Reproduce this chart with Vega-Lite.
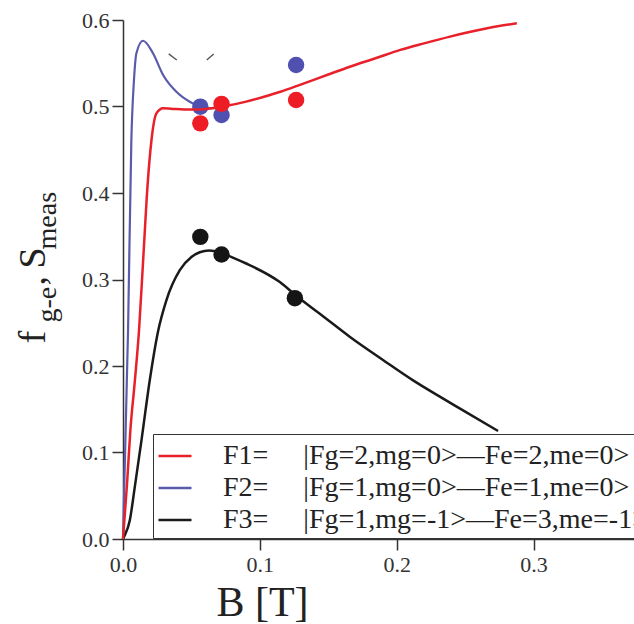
{
  "$schema": "https://vega.github.io/schema/vega-lite/v6.json",
  "width": 520,
  "height": 519,
  "autosize": "none",
  "padding": {"left": 123, "top": 20, "right": 0, "bottom": 85},
  "background": "white",
  "config": {
    "view": {"stroke": null},
    "font": "Liberation Serif",
    "axis": {
      "grid": false,
      "domainColor": "#333",
      "domainWidth": 1.5,
      "tickColor": "#333",
      "tickWidth": 1.5,
      "tickSize": 11,
      "labelColor": "#333",
      "labelFont": "Liberation Serif",
      "labelFontSize": 22,
      "labelFlush": false,
      "titleFont": "Liberation Serif",
      "titleColor": "#222",
      "titleFontWeight": "normal"
    }
  },
  "resolve": {"axis": {"y": "independent"}},
  "datasets": {
    "curves": [
      {"s": "F1", "B": 0.0, "f": 0.0},
      {"s": "F1", "B": 0.003, "f": 0.065},
      {"s": "F1", "B": 0.0054, "f": 0.126},
      {"s": "F1", "B": 0.0085, "f": 0.18},
      {"s": "F1", "B": 0.0117, "f": 0.241},
      {"s": "F1", "B": 0.015, "f": 0.33},
      {"s": "F1", "B": 0.018, "f": 0.41},
      {"s": "F1", "B": 0.0208, "f": 0.461},
      {"s": "F1", "B": 0.0244, "f": 0.492},
      {"s": "F1", "B": 0.0293, "f": 0.498},
      {"s": "F1", "B": 0.035, "f": 0.4975},
      {"s": "F1", "B": 0.045, "f": 0.4965},
      {"s": "F1", "B": 0.055, "f": 0.4965},
      {"s": "F1", "B": 0.065, "f": 0.498},
      {"s": "F1", "B": 0.075, "f": 0.5005},
      {"s": "F1", "B": 0.09, "f": 0.5056},
      {"s": "F1", "B": 0.1024, "f": 0.511},
      {"s": "F1", "B": 0.115, "f": 0.517},
      {"s": "F1", "B": 0.1293, "f": 0.525},
      {"s": "F1", "B": 0.15, "f": 0.537},
      {"s": "F1", "B": 0.1658, "f": 0.546},
      {"s": "F1", "B": 0.185, "f": 0.556},
      {"s": "F1", "B": 0.2026, "f": 0.5654},
      {"s": "F1", "B": 0.22, "f": 0.573},
      {"s": "F1", "B": 0.239, "f": 0.5808},
      {"s": "F1", "B": 0.26, "f": 0.5885},
      {"s": "F1", "B": 0.2878, "f": 0.5963},
      {"s": "F2", "B": 0.0, "f": 0.0},
      {"s": "F2", "B": 0.0037, "f": 0.242},
      {"s": "F2", "B": 0.0061, "f": 0.461},
      {"s": "F2", "B": 0.008, "f": 0.53},
      {"s": "F2", "B": 0.0098, "f": 0.5616},
      {"s": "F2", "B": 0.0146, "f": 0.576},
      {"s": "F2", "B": 0.0219, "f": 0.5616},
      {"s": "F2", "B": 0.0293, "f": 0.5365},
      {"s": "F2", "B": 0.039, "f": 0.5171},
      {"s": "F2", "B": 0.0488, "f": 0.5055},
      {"s": "F2", "B": 0.0561, "f": 0.4998},
      {"s": "F2", "B": 0.065, "f": 0.498},
      {"s": "F2", "B": 0.075, "f": 0.5005},
      {"s": "F3", "B": 0.0, "f": 0.0},
      {"s": "F3", "B": 0.0012, "f": 0.004},
      {"s": "F3", "B": 0.0049, "f": 0.021},
      {"s": "F3", "B": 0.0086, "f": 0.06},
      {"s": "F3", "B": 0.0135, "f": 0.114},
      {"s": "F3", "B": 0.0195, "f": 0.183},
      {"s": "F3", "B": 0.0256, "f": 0.24},
      {"s": "F3", "B": 0.0317, "f": 0.276},
      {"s": "F3", "B": 0.0415, "f": 0.3108},
      {"s": "F3", "B": 0.05, "f": 0.326},
      {"s": "F3", "B": 0.0561, "f": 0.3315},
      {"s": "F3", "B": 0.063, "f": 0.3335},
      {"s": "F3", "B": 0.072, "f": 0.3305},
      {"s": "F3", "B": 0.0815, "f": 0.3245},
      {"s": "F3", "B": 0.09, "f": 0.3185},
      {"s": "F3", "B": 0.1146, "f": 0.297},
      {"s": "F3", "B": 0.1268, "f": 0.281},
      {"s": "F3", "B": 0.145, "f": 0.259},
      {"s": "F3", "B": 0.1659, "f": 0.2336},
      {"s": "F3", "B": 0.19, "f": 0.207},
      {"s": "F3", "B": 0.212, "f": 0.1834},
      {"s": "F3", "B": 0.23, "f": 0.166},
      {"s": "F3", "B": 0.2485, "f": 0.1487},
      {"s": "F3", "B": 0.2741, "f": 0.1248}
    ],
    "measured": [
      {"s": "F2", "B": 0.0565, "S": 0.4998},
      {"s": "F2", "B": 0.072, "S": 0.4902},
      {"s": "F2", "B": 0.1265, "S": 0.548},
      {"s": "F1", "B": 0.0565, "S": 0.4805},
      {"s": "F1", "B": 0.072, "S": 0.503},
      {"s": "F1", "B": 0.1265, "S": 0.5075},
      {"s": "F3", "B": 0.0565, "S": 0.3493},
      {"s": "F3", "B": 0.072, "S": 0.3289},
      {"s": "F3", "B": 0.1256, "S": 0.2784}
    ],
    "dashes": [
      {"d": "a", "B": 0.0334, "v": 0.5608},
      {"d": "a", "B": 0.0393, "v": 0.5538},
      {"d": "b", "B": 0.0612, "v": 0.5538},
      {"d": "b", "B": 0.0663, "v": 0.5608}
    ]
  },
  "encoding": {
    "x": {
      "field": "B",
      "type": "quantitative",
      "scale": {"domain": [0, 0.38], "nice": false},
      "axis": {
        "values": [0, 0.1, 0.2, 0.3],
        "format": ".1f",
        "labelPadding": 4,
        "title": "B [T]",
        "titleFontSize": 42,
        "titleX": 139,
        "titleY": 76,
        "titleAlign": "center",
        "titleBaseline": "alphabetic"
      }
    },
    "y": {
      "field": "f",
      "type": "quantitative",
      "scale": {"domain": [0, 0.6], "nice": false},
      "axis": null
    }
  },
  "layer": [
    {
      "data": {"name": "curves"},
      "transform": [{"filter": "datum.s == 'F2'"}],
      "mark": {"type": "line", "strokeWidth": 2.2, "interpolate": "monotone"},
      "encoding": {
        "y": {
          "field": "f",
          "type": "quantitative",
          "axis": {
            "orient": "left",
            "values": [0, 0.1, 0.2, 0.3, 0.4, 0.5, 0.6],
            "format": ".1f",
            "labelPadding": 3,
            "title": null
          }
        },
        "color": {
          "field": "s",
          "type": "nominal",
          "scale": {"domain": ["F1", "F2", "F3"], "range": ["#e8202a", "#5b5bab", "#1a1a1a"]},
          "legend": {
            "orient": "none",
            "legendX": 30,
            "legendY": 414,
            "title": null,
            "symbolType": "stroke",
            "symbolSize": 1089,
            "symbolStrokeWidth": 2.5,
            "labelFont": "Liberation Serif",
            "labelFontSize": 28,
            "labelColor": "#222",
            "labelLimit": 1000,
            "labelOffset": 30,
            "strokeColor": "#333",
            "padding": 4,
            "rowPadding": 0,
            "labelExpr": "datum.label == 'F1' ? 'F1=\u00a0\u00a0\u00a0\u00a0\u00a0|Fg=2,mg=0>\u2014Fe=2,me=0>' : datum.label == 'F2' ? '\u00a0F2=\u00a0\u00a0\u00a0\u00a0\u00a0|Fg=1,mg=0>\u2014Fe=1,me=0>' : '\u00a0F3=\u00a0\u00a0\u00a0\u00a0\u00a0|Fg=1,mg=-1>\u2014Fe=3,me=-1>'"
          }
        }
      }
    },
    {
      "data": {"name": "curves"},
      "transform": [{"filter": "datum.s == 'F3'"}],
      "mark": {"type": "line", "strokeWidth": 2.5, "interpolate": "monotone"},
      "encoding": {"color": {"field": "s", "type": "nominal"}}
    },
    {
      "data": {"name": "measured"},
      "transform": [{"filter": "datum.s == 'F2'"}],
      "mark": {"type": "circle", "size": 270, "opacity": 1, "color": "#5050b0"},
      "encoding": {"y": {"field": "S", "type": "quantitative", "axis": null}}
    },
    {
      "data": {"name": "curves"},
      "transform": [{"filter": "datum.s == 'F1'"}],
      "mark": {"type": "line", "strokeWidth": 2.5, "interpolate": "monotone"},
      "encoding": {"color": {"field": "s", "type": "nominal"}}
    },
    {
      "data": {"name": "measured"},
      "transform": [{"filter": "datum.s == 'F1'"}],
      "mark": {"type": "circle", "size": 270, "opacity": 1, "color": "#ee1c25"},
      "encoding": {"y": {"field": "S", "type": "quantitative", "axis": null}}
    },
    {
      "data": {"name": "measured"},
      "transform": [{"filter": "datum.s == 'F3'"}],
      "mark": {"type": "circle", "size": 270, "opacity": 1, "color": "#151515"},
      "encoding": {"y": {"field": "S", "type": "quantitative", "axis": null}}
    },
    {
      "data": {"name": "dashes"},
      "mark": {"type": "line", "strokeWidth": 1.4, "color": "#555"},
      "encoding": {"y": {"field": "v", "type": "quantitative", "axis": null}, "detail": {"field": "d"}}
    },
    {
      "data": {"name": "measured"},
      "mark": {"type": "point", "opacity": 0},
      "encoding": {
        "y": {"field": "S", "type": "quantitative", "axis": {"orient": "left", "domain": false, "ticks": false, "labels": false, "title": "f", "titleAngle": 270, "titleAlign": "left", "titleBaseline": "alphabetic", "titleX": -79, "titleY": 323, "titleFontSize": 38}}
      }
    },
    {
      "data": {"name": "measured"},
      "mark": {"type": "point", "opacity": 0},
      "encoding": {
        "y": {"field": "S", "type": "quantitative", "axis": {"orient": "left", "domain": false, "ticks": false, "labels": false, "title": "g-e", "titleAngle": 270, "titleAlign": "left", "titleBaseline": "alphabetic", "titleX": -68, "titleY": 302, "titleFontSize": 28}}
      }
    },
    {
      "data": {"name": "measured"},
      "mark": {"type": "point", "opacity": 0},
      "encoding": {
        "y": {"field": "S", "type": "quantitative", "axis": {"orient": "left", "domain": false, "ticks": false, "labels": false, "title": ",\u2009S", "titleAngle": 270, "titleAlign": "left", "titleBaseline": "alphabetic", "titleX": -79, "titleY": 265, "titleFontSize": 38}}
      }
    },
    {
      "data": {"name": "measured"},
      "mark": {"type": "point", "opacity": 0},
      "encoding": {
        "y": {"field": "S", "type": "quantitative", "axis": {"orient": "left", "domain": false, "ticks": false, "labels": false, "title": "meas", "titleAngle": 270, "titleAlign": "left", "titleBaseline": "alphabetic", "titleX": -68, "titleY": 229, "titleFontSize": 28}}
      }
    }
  ]
}
